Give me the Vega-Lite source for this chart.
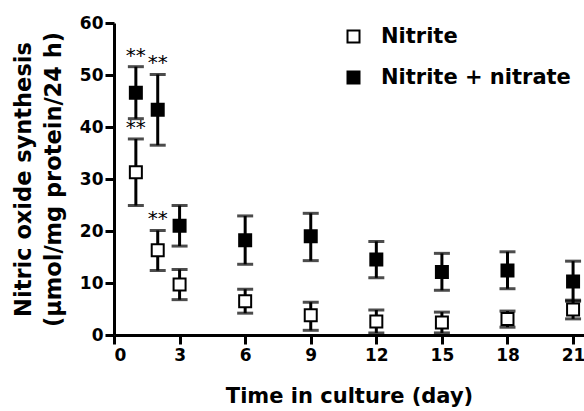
{
  "$schema": "https://vega.github.io/schema/vega-lite/v6.json",
  "width": 470,
  "height": 312,
  "autosize": {"type": "none"},
  "padding": {"left": 114, "top": 23, "right": 0, "bottom": 76},
  "background": "white",
  "config": {
    "view": {"stroke": null},
    "font": "DejaVu Sans",
    "axis": {
      "grid": false,
      "domainColor": "black",
      "domainWidth": 3,
      "tickColor": "black",
      "tickWidth": 3,
      "tickSize": 9,
      "labelFont": "DejaVu Sans",
      "labelFontWeight": "bold",
      "labelFontSize": 17,
      "labelColor": "black",
      "titleFont": "DejaVu Sans",
      "titleFontWeight": "bold",
      "titleFontSize": 21,
      "titleColor": "black"
    },
    "legend": {
      "orient": "none",
      "legendX": 229,
      "legendY": 3,
      "labelFont": "DejaVu Sans",
      "labelFontWeight": "bold",
      "labelFontSize": 21,
      "labelColor": "black",
      "labelLimit": 400,
      "symbolSize": 144,
      "symbolType": "square",
      "symbolStrokeColor": "black",
      "symbolStrokeWidth": 2,
      "labelOffset": 17,
      "rowPadding": 19,
      "title": null
    }
  },
  "data": {
    "values": [
      {"day": 1, "series": "Nitrite + nitrate", "mean": 46.6, "lower": 41.6, "upper": 51.6, "sig": "**"},
      {"day": 2, "series": "Nitrite + nitrate", "mean": 43.3, "lower": 36.5, "upper": 50.1, "sig": "**"},
      {"day": 3, "series": "Nitrite + nitrate", "mean": 21.0, "lower": 17.1, "upper": 24.9, "sig": ""},
      {"day": 6, "series": "Nitrite + nitrate", "mean": 18.2, "lower": 13.6, "upper": 22.9, "sig": ""},
      {"day": 9, "series": "Nitrite + nitrate", "mean": 19.0, "lower": 14.3, "upper": 23.4, "sig": ""},
      {"day": 12, "series": "Nitrite + nitrate", "mean": 14.5, "lower": 11.0, "upper": 18.0, "sig": ""},
      {"day": 15, "series": "Nitrite + nitrate", "mean": 12.1, "lower": 8.6, "upper": 15.7, "sig": ""},
      {"day": 18, "series": "Nitrite + nitrate", "mean": 12.4, "lower": 8.9, "upper": 16.0, "sig": ""},
      {"day": 21, "series": "Nitrite + nitrate", "mean": 10.3, "lower": 6.5, "upper": 14.2, "sig": ""},
      {"day": 1, "series": "Nitrite", "mean": 31.3, "lower": 24.9, "upper": 37.7, "sig": "**"},
      {"day": 2, "series": "Nitrite", "mean": 16.3, "lower": 12.4, "upper": 20.1, "sig": "**"},
      {"day": 3, "series": "Nitrite", "mean": 9.7, "lower": 6.8, "upper": 12.6, "sig": ""},
      {"day": 6, "series": "Nitrite", "mean": 6.5, "lower": 4.2, "upper": 8.8, "sig": ""},
      {"day": 9, "series": "Nitrite", "mean": 3.8, "lower": 0.9, "upper": 6.3, "sig": ""},
      {"day": 12, "series": "Nitrite", "mean": 2.6, "lower": 0.4, "upper": 4.8, "sig": ""},
      {"day": 15, "series": "Nitrite", "mean": 2.4, "lower": 0.4, "upper": 4.4, "sig": ""},
      {"day": 18, "series": "Nitrite", "mean": 3.1, "lower": 1.5, "upper": 4.6, "sig": ""},
      {"day": 21, "series": "Nitrite", "mean": 4.9, "lower": 3.1, "upper": 6.7, "sig": ""}
    ]
  },
  "encoding": {
    "x": {
      "field": "day",
      "type": "quantitative",
      "scale": {"domain": [0, 21.5], "nice": false},
      "axis": {"values": [0, 3, 6, 9, 12, 15, 18, 21], "labelPadding": 3, "titlePadding": 22, "title": "Time in culture (day)"}
    }
  },
  "layer": [
    {
      "mark": {"type": "rule", "color": "black", "strokeWidth": 3},
      "encoding": {
        "y": {"field": "lower", "type": "quantitative", "scale": {"domain": [0, 60], "nice": false},
          "axis": {"values": [0, 10, 20, 30, 40, 50, 60], "labelPadding": 2, "titlePadding": 14, "titleLineHeight": 30, "titleFontSize": 22.5,
            "title": ["Nitric oxide synthesis", "(µmol/mg protein/24 h)"]}},
        "y2": {"field": "upper"}
      }
    },
    {
      "mark": {"type": "tick", "orient": "horizontal", "color": "black", "thickness": 3, "size": 16},
      "encoding": {"y": {"field": "lower", "type": "quantitative"}}
    },
    {
      "mark": {"type": "tick", "orient": "horizontal", "color": "black", "thickness": 3, "size": 16},
      "encoding": {"y": {"field": "upper", "type": "quantitative"}}
    },
    {
      "mark": {"type": "point", "shape": "square", "size": 144, "filled": true, "stroke": "black", "strokeWidth": 2, "opacity": 1},
      "encoding": {
        "y": {"field": "mean", "type": "quantitative"},
        "fill": {"field": "series", "type": "nominal",
          "scale": {"domain": ["Nitrite", "Nitrite + nitrate"], "range": ["white", "black"]},
          "legend": {"symbolFillColor": null}}
      }
    },
    {
      "transform": [{"filter": "datum.sig == '**'"}],
      "mark": {"type": "text", "font": "DejaVu Sans", "fontSize": 20, "color": "black", "baseline": "middle", "dy": -11},
      "encoding": {
        "y": {"field": "upper", "type": "quantitative"},
        "text": {"field": "sig"}
      }
    }
  ]
}
